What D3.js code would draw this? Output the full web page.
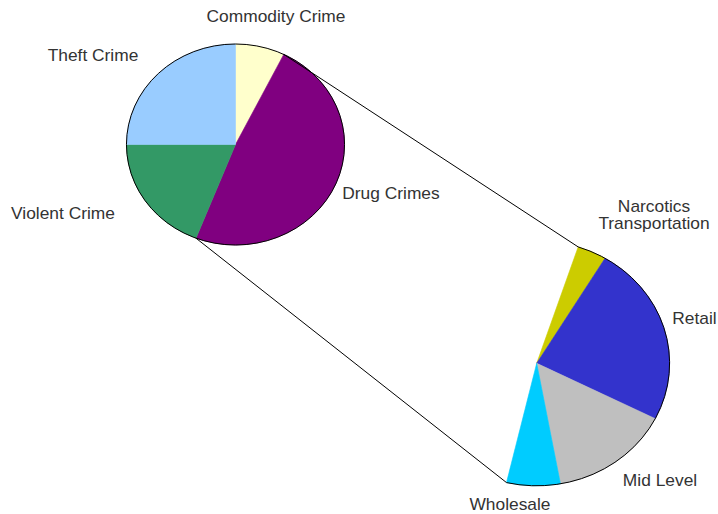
<!DOCTYPE html>
<html><head><meta charset="utf-8">
<script src="https://cdn.jsdelivr.net/npm/d3@7"></script>
<style>body{margin:0;background:#fff} svg{display:block}</style>
</head><body><svg id="c" width="718" height="514"></svg>
<script>
// ---- data ----
const crimeCategories = ["Commodity Crime", "Drug Crimes", "Violent Crime", "Theft Crime"];
const crimeValues = [7.3, 48.6, 19.1, 25.0];
const crimeColors = ["#FFFFCC", "#800080", "#339966", "#99CCFF"];

const drugCategories = ["Narcotics\nTransportation", "Retail", "Mid Level", "Wholesale"];
const drugValues = [7.3, 49.1, 30.2, 13.4];
const drugColors = ["#CCCC00", "#3333CC", "#BFBFBF", "#00CCFF"];

// ---- layout ----
const sx = 1.085; // horizontal stretch of the plot
const p1 = {cx: 235.5 / sx, cy: 144.5, r: 100.5};
const p2 = {cx: 536.7 / sx, cy: 363.3, r: 122.5};
const rot2 = -8.1 * Math.PI / 180;
const crimeLabelPos = [[276, 22], [391, 199], [63, 219], [93, 61]];
const drugLabelPos = [[654, 211.5], [694.5, 324], [660, 486], [510, 510]];
const fontSize = 16, lineH = 17.5;

const svg = d3.select("#c");
const g = svg.append("g").attr("transform", `scale(${sx},1)`);

const arcs1 = d3.pie().sort(null).value(d => d)(crimeValues);
const drugIdx = crimeCategories.indexOf("Drug Crimes");
const dA = arcs1[drugIdx];
const arcs2 = d3.pie().sort(null).value(d => d)
  .startAngle(dA.startAngle + rot2).endAngle(dA.endAngle + rot2)(drugValues);

function pt(p, a) { return [p.cx + p.r * Math.sin(a), p.cy - p.r * Math.cos(a)]; }

function drawPie(p, arcs, colors) {
  const arc = d3.arc().innerRadius(0).outerRadius(p.r);
  const pg = g.append("g").attr("transform", `translate(${p.cx},${p.cy})`);
  pg.selectAll("path").data(arcs).join("path")
    .attr("d", arc)
    .attr("fill", (d, i) => colors[i])
    .attr("stroke", (d, i) => colors[i])
    .attr("stroke-width", 0.6)
    .attr("vector-effect", "non-scaling-stroke");
  // outer outline only
  const a0 = arcs[0].startAngle, a1 = arcs[arcs.length - 1].endAngle;
  const path = d3.path();
  const s = pt({cx: 0, cy: 0, r: p.r}, a0);
  path.moveTo(s[0], s[1]);
  path.arc(0, 0, p.r, a0 - Math.PI / 2, a1 - Math.PI / 2);
  pg.append("path").attr("d", path.toString())
    .attr("fill", "none").attr("stroke", "#000").attr("stroke-width", 1)
    .attr("vector-effect", "non-scaling-stroke");
}

drawPie(p1, arcs1, crimeColors);
drawPie(p2, arcs2, drugColors);

// connector lines
const lines = [
  [pt(p1, dA.startAngle), pt(p2, arcs2[0].startAngle)],
  [pt(p1, dA.endAngle), pt(p2, arcs2[arcs2.length - 1].endAngle)]
];
g.selectAll("line.conn").data(lines).join("line")
  .attr("class", "conn")
  .attr("x1", d => d[0][0]).attr("y1", d => d[0][1])
  .attr("x2", d => d[1][0]).attr("y2", d => d[1][1])
  .attr("stroke", "#000").attr("stroke-width", 1)
  .attr("vector-effect", "non-scaling-stroke");

// labels
const lg = svg.append("g")
  .attr("font-family", "Arial, 'Liberation Sans', sans-serif")
  .attr("font-size", fontSize).attr("fill", "#333").attr("text-anchor", "middle");

function addLabels(cats, pos) {
  cats.forEach((c, i) => {
    const t = lg.append("text")
      .attr("transform", `translate(${pos[i][0]},${pos[i][1]}) scale(${sx},1)`);
    c.split("\n").forEach((ln, j) => {
      t.append("tspan").attr("x", 0).attr("y", j * lineH).text(ln);
    });
  });
}
addLabels(crimeCategories, crimeLabelPos);
addLabels(drugCategories, drugLabelPos);
</script>
</body></html>
